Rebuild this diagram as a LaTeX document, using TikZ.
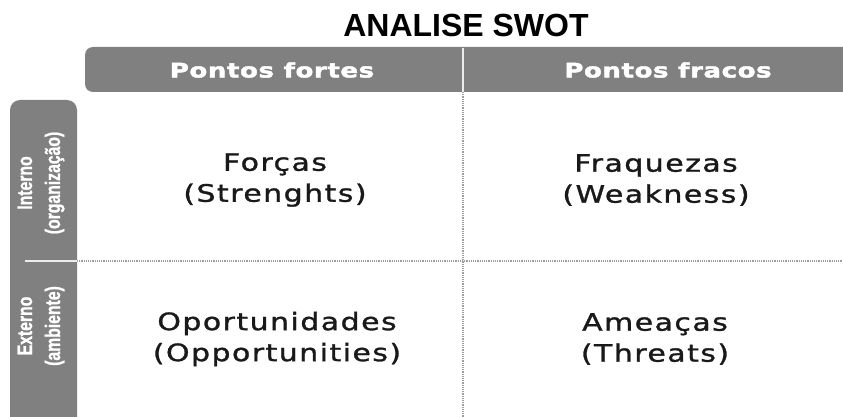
\documentclass[tikz,border=0pt]{standalone}
\usepackage{fontspec}
\usepackage{tikz}
\setmainfont{Liberation Sans}
\newfontfamily\titlefont{Liberation Sans}
\newfontfamily\headfont[FakeStretch=1.3,LetterSpace=3,FakeBold=2.2]{DejaVu Sans}
\newfontfamily\cellfont[FakeStretch=1.25,LetterSpace=6,FakeBold=1.2]{DejaVu Sans}
\newfontfamily\sidefont[FakeStretch=0.75,FakeBold=1]{Liberation Sans}
\definecolor{bargray}{gray}{0.5}
\definecolor{gridgray}{gray}{0.62}
\definecolor{inkgray}{gray}{0.1}

\begin{document}
\begin{tikzpicture}[x=1pt, y=-1pt,
  head/.style = {text = white, inner sep = 0pt, font = \headfont\bfseries\fontsize{20}{20}\selectfont},
  side/.style = {text = white, inner sep = 0pt, rotate = 90, align = center, font = \sidefont\bfseries\fontsize{21}{28}\selectfont},
  cell/.style = {text = inkgray, inner sep = 0pt, align = center, font = \cellfont\fontsize{24}{31}\selectfont},
  grid/.style = {draw = gridgray, densely dotted, line width = 1.2pt},
  split/.style = {draw = white!85!gray, line width = 2pt}]
\useasboundingbox (0,0) rectangle (843,417);
\fill[white] (0,0) rectangle (843,417);

% title
\node[font = \titlefont\bfseries\fontsize{32}{32}\selectfont] (title) at (466,25) {ANALISE SWOT};

% bars
\fill[bargray, rounded corners = 8pt] (85,47) rectangle (870,92);
\fill[bargray, rounded corners = 10pt] (10,100) rectangle (77,440);

\node[head] (strong) at (272,70) {Pontos fortes};
\node[head] (weak)   at (668,70) {Pontos fracos};

\node[side] (inside)  at (41,183) {Interno\\(organização)};
\node[side] (outside) at (41,326) {Externo\\(ambiente)};

% dividers
\coordinate (htop) at (463,48);
\coordinate (hbot) at (463,92);
\coordinate (vend) at (463,417);
\coordinate (sleft)  at (25,261);
\coordinate (sright) at (77,261);
\coordinate (rend)   at (843,261);
\draw[split] (htop) -- (hbot);
\draw[grid]  (hbot) -- (vend);
\draw[split] (sleft) -- (sright);
\draw[grid]  (sright) -- (rend);

% quadrants
\node[cell] (S) at (275,180) {Forças\\(Strenghts)};
\node[cell] (W) at (656,180) {Fraquezas\\(Weakness)};
\node[cell] (O) at (277,339) {Oportunidades\\(Opportunities)};
\node[cell] (T) at (655,339) {Ameaças\\(Threats)};
\end{tikzpicture}
\end{document}
